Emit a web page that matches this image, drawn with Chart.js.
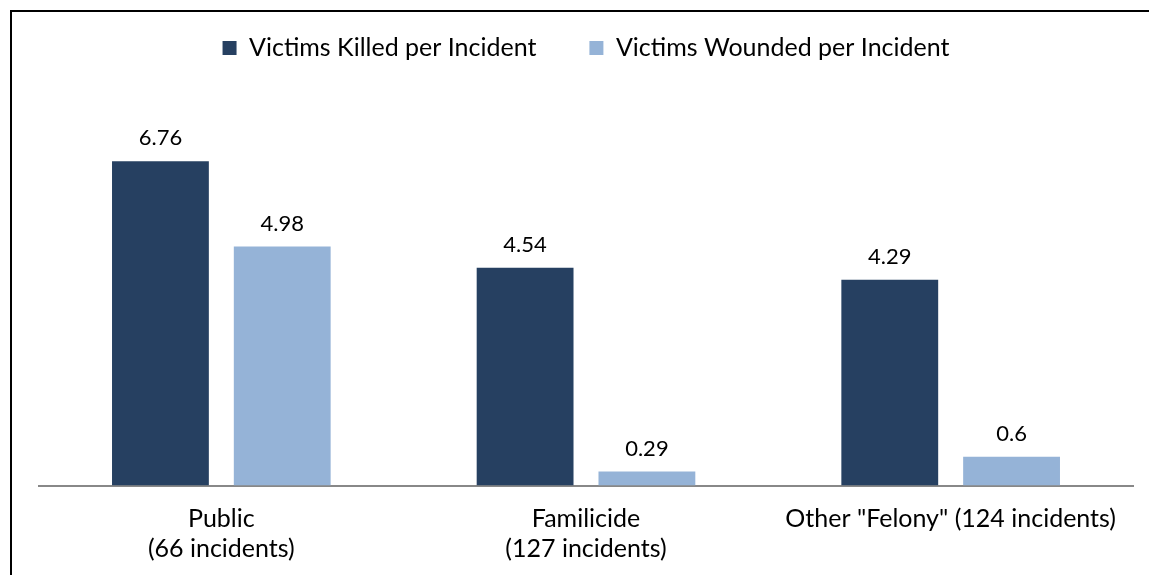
<!DOCTYPE html>
<html>
<head>
<meta charset="utf-8">
<script src="https://cdn.jsdelivr.net/npm/chart.js@4.4.1/dist/chart.umd.min.js"></script>
<style>
  html, body { margin: 0; padding: 0; background: #fff; }
  #wrap { position: relative; width: 1149px; height: 575px; overflow: hidden; }
  #frame { position: absolute; left: 10px; top: 10px; width: 1200px; height: 600px;
           border-left: 2px solid #000; border-top: 2px solid #000; }
  #chart { position: absolute; left: 0; top: 0; }
</style>
</head>
<body>
<div id="wrap">
  <div id="frame"></div>
  <canvas id="chart" width="1149" height="575"></canvas>
</div>
<script>
// categories (multi-line tick labels)
const categories = [
  ["Public", "(66 incidents)"],
  ["Familicide", "(127 incidents)"],
  "Other \"Felony\" (124 incidents)"
];
const killedPerIncident = [6.76, 4.54, 4.29];
const woundedPerIncident = [4.98, 0.29, 0.6];
const seriesNames = ["Victims Killed per Incident", "Victims Wounded per Incident"];

const FONT = "'Gill Sans', 'Gill Sans MT', Lato, sans-serif";

// value labels above each bar
const barValueLabels = {
  id: "barValueLabels",
  afterDatasetsDraw(chart) {
    const ctx = chart.ctx;
    ctx.save();
    ctx.font = "22px " + FONT;
    ctx.fillStyle = "#000";
    ctx.textAlign = "center";
    ctx.textBaseline = "alphabetic";
    chart.data.datasets.forEach((ds, i) => {
      chart.getDatasetMeta(i).data.forEach((bar, j) => {
        ctx.fillText(String(ds.data[j]), bar.x, bar.y - 16);
      });
    });
    ctx.restore();
  }
};

new Chart(document.getElementById("chart"), {
  type: "bar",
  data: {
    labels: categories,
    datasets: [
      { label: seriesNames[0], data: killedPerIncident, backgroundColor: "#264061" },
      { label: seriesNames[1], data: woundedPerIncident, backgroundColor: "#95b3d7" }
    ]
  },
  options: {
    responsive: false,
    animation: false,
    events: [],
    // negative top pad lets the wide legend item gap sit close to the frame
    layout: { padding: { left: 39, right: 16, top: -17.5, bottom: 1.5 } },
    datasets: {
      bar: { categoryPercentage: 0.668, barPercentage: 0.795 }
    },
    plugins: {
      legend: {
        position: "top",
        labels: {
          color: "#000",
          boxWidth: 14,
          boxHeight: 14,
          padding: 53,
          font: { family: FONT, size: 25 }
        }
      },
      tooltip: { enabled: false }
    },
    scales: {
      x: {
        grid: { display: false },
        border: { display: true, color: "#888", width: 2 },
        ticks: {
          color: "#000",
          padding: 10,
          maxRotation: 0,
          autoSkip: false,
          font: { family: FONT, size: 25, lineHeight: 1.2 }
        }
      },
      y: {
        display: false,
        min: 0,
        max: 8.65
      }
    }
  },
  plugins: [barValueLabels]
});
</script>
</body>
</html>
